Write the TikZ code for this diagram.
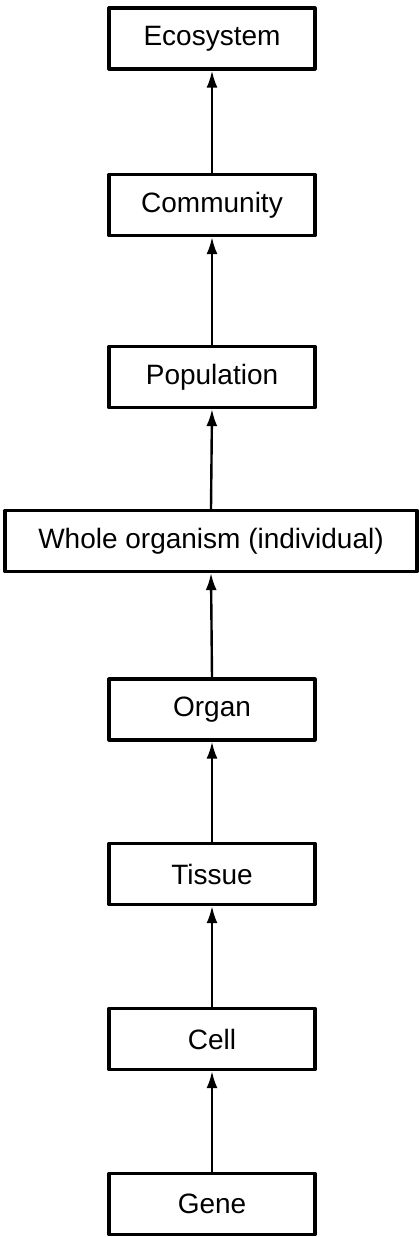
\documentclass[tikz,border=0pt]{standalone}
\usepackage{fontspec}
\setmainfont{Liberation Sans}
\usetikzlibrary{arrows.meta}

\begin{document}
\begin{tikzpicture}[x=1pt, y=1pt, >={Latex[length=17pt,width=11pt]},
	line cap=round, line join=round,
	level/.style={draw, line width=3.2pt, minimum width=206pt, minimum height=61pt,
		inner sep=0pt, font=\fontsize{28}{32}\selectfont},
	wide/.style={level, minimum width=412pt},
	up/.style={->, line width=2.4pt}]
	
	% fix the page to the picture size
	\useasboundingbox (0,0) rectangle (418,-1237);
	
	% ---- levels of organisation, top to bottom ----
	\node[level] (eco)  at (212,-38.5)  {Ecosystem};
	\node[level] (comm) at (212,-205)   {Community};
	\node[level] (pop)  at (212,-377)   {Population};
	\node[wide]  (org)  at (211,-541)   {Whole organism (individual)};
	\node[level] (organ) at (212,-709.5) {Organ};
	\node[level] (tis)  at (212,-874)   {Tissue};
	\node[level] (cell) at (212,-1039)  {Cell};
	\node[level] (gene) at (212,-1204)  {Gene};
	
	% ---- arrows pointing upward ----
	\draw[up] (gene.north)  -- (cell.south);
	\draw[up] (cell.north)  -- (tis.south);
	\draw[up] (tis.north)   -- (organ.south);
	\draw[up] (organ.north) -- (org.south);
	\draw[up] (org.north)   -- (pop.south);
	\draw[up] (pop.north)   -- (comm.south);
	\draw[up] (comm.north)  -- (eco.south);
	
\end{tikzpicture}
\end{document}
